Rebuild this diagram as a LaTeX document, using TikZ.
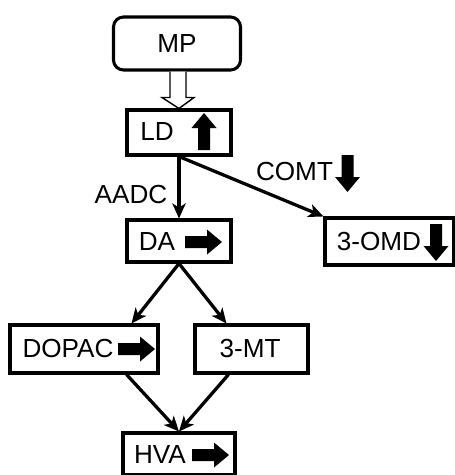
\documentclass[tikz,border=0pt]{standalone}
\usepackage{fontspec}
\setmainfont{Liberation Sans}
\usepackage{tikz}
\usetikzlibrary{positioning, calc, arrows.meta}

\tikzset{
    box/.style={draw, line width=2.6pt, minimum height=1.35cm, inner sep=0pt},
    lbl/.style={inner sep=0pt, font=\fontsize{22.3}{25}\selectfont},
    arr/.style={line width=2.8pt, -{Stealth[length=0.45cm, width=0.4cm, inset=0.12cm]}},
    blkarrow/.pic={\fill (-18.5,-6) -- (3.5,-6) -- (3.5,-12.5) -- (18.5,0) -- (3.5,12.5) -- (3.5,6) -- (-18.5,6) -- cycle;}
}

\begin{document}
\begin{tikzpicture}[x=0.03cm, y=-0.03cm]
    \useasboundingbox (0,0) rectangle (455,475);
    % boxes
    \node[box, rounded corners=0.3cm, minimum width=3.81cm, minimum height=1.59cm] (mp) at (177,43.5) {};
    \node[box, minimum width=3.12cm] (ld) at (179,132.5) {};
    \node[box, minimum width=3.12cm, minimum height=1.26cm] (da) at (179,241) {};
    \node[box, minimum width=3.87cm, minimum height=1.41cm] (omd) at (389.5,241.5) {};
    \node[box, minimum width=4.44cm, minimum height=1.44cm] (dopac) at (84,349) {};
    \node[box, minimum width=3.39cm, minimum height=1.44cm] (mt) at (251.5,349) {};
    \node[box, minimum width=3.36cm, minimum height=1.26cm] (hva) at (179,454) {};
    % labels
    \node[lbl] (mpt) at (177,44) {MP};
    \node[lbl] (ldt) at (157,132) {LD};
    \node[lbl] (dat) at (157,242) {DA};
    \node[lbl] (omdt) at (379,242) {3-OMD};
    \node[lbl] (dopact) at (68,349) {DOPAC};
    \node[lbl] (mtt) at (250,349) {3-MT};
    \node[lbl] (hvat) at (160,455) {HVA};
    \node[lbl] (aadc) at (131,195) {AADC};
    \node[lbl] (comt) at (294.5,172) {COMT};
    % up / down / right
    \pic[rotate=90] at (204,131.5) {blkarrow};
    \pic at (203.5,242) {blkarrow};
    \pic[rotate=-90] at (347.5,173.5) {blkarrow};
    \pic[rotate=-90] at (436,242.5) {blkarrow};
    \pic at (136.5,349) {blkarrow};
    \pic at (210.5,455) {blkarrow};
    % open arrow MP -> LD
    \draw[line width=1.2pt, fill=white] ($(mp.south)+(-7,0)$) -- ++(0,26) -- ++(-8,0) -- (ld.north)
        -- ($(mp.south)+(17,26)$) -- ++(-8,0) -- ($(mp.south)+(9,0)$);
    % connectors
    \draw[arr] (ld.south) -- (da.north);
    \draw[arr] (ld.south) -- (omd.north west);
    \draw[arr] (da.south) -- ($(dopac.north east)+(-28,0)$);
    \draw[arr] (da.south) -- ($(mt.north west)+(33,0)$);
    \draw[arr] ($(dopac.south east)+(-33,0)$) -- (hva.north);
    \draw[arr] ($(mt.south west)+(35,0)$) -- (hva.north);
\end{tikzpicture}
\end{document}
